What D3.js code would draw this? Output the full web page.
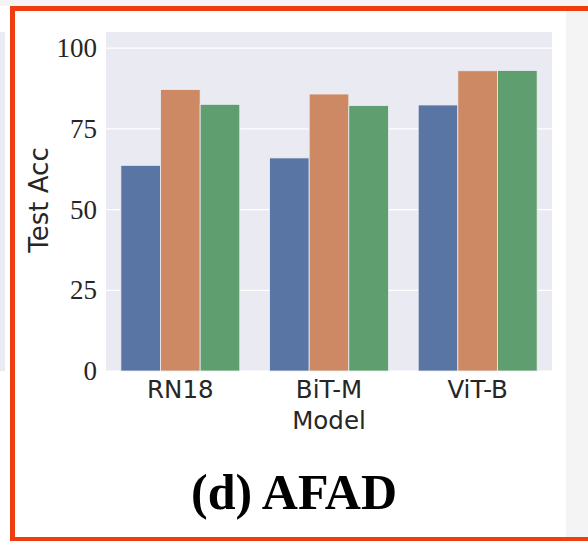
<!DOCTYPE html>
<html>
<head>
<meta charset="utf-8">
<script src="https://cdn.jsdelivr.net/npm/d3@7"></script>
<style>
    html, body { margin: 0; padding: 0; background: #f4f4f4; }
    svg { display: block; }
</style>
</head>
<body>
<div id="chart"></div>
<script>
const models = ['RN18', 'BiT-M', 'ViT-B'];
const seriesNames = ['s1', 's2', 's3'];
const series1 = [63.7, 66.0, 82.4];
const series2 = [87.2, 85.8, 93.0];
const series3 = [82.6, 82.2, 93.1];
const yTicks = [0, 25, 50, 75, 100];
const colors = ['#5975a4', '#cc8963', '#5f9e6e'];

const width = 588, height = 541;
const plot = { left: 106, right: 552, top: 32, bottom: 371 };

const svg = d3.select('#chart').append('svg')
    .attr('width', width)
    .attr('height', height);

// page around the figure
svg.append('rect').attr('width', width).attr('height', height).attr('fill', '#f4f4f4');
svg.append('rect').attr('x', 0).attr('y', 6).attr('width', 566).attr('height', height - 6).attr('fill', '#ffffff');
svg.append('rect').attr('x', 0).attr('y', 32).attr('width', 5).attr('height', 339).attr('fill', '#eaeaf2');

const x = d3.scaleBand().domain(models).range([plot.left, plot.right]).paddingInner(0).paddingOuter(0);
const xs = d3.scaleBand().domain(seriesNames).range([0, x.bandwidth() * 0.8]);
const y = d3.scaleLinear().domain([0, 105]).range([plot.bottom, plot.top]);

svg.append('rect')
    .attr('x', plot.left).attr('y', plot.top)
    .attr('width', plot.right - plot.left).attr('height', plot.bottom - plot.top)
    .attr('fill', '#eaeaf2');

svg.append('g')
    .selectAll('line').data(yTicks)
    .enter()
    .append('line')
    .attr('x1', plot.left).attr('x2', plot.right)
    .attr('y1', d => y(d)).attr('y2', d => y(d))
    .attr('stroke', '#ffffff')
    .attr('stroke-width', 1.2);

const rows = models.map((m, i) => ({ model: m, values: [series1[i], series2[i], series3[i]] }));

svg.append('g')
    .selectAll('g').data(rows)
    .enter()
    .append('g')
    .attr('transform', d => 'translate(' + (x(d.model) + x.bandwidth() * 0.1) + ',0)')
    .selectAll('rect').data(d => d.values.map((v, j) => ({ key: seriesNames[j], value: v, j: j })))
    .enter()
    .append('rect')
    .attr('x', d => xs(d.key))
    .attr('width', xs.bandwidth())
    .attr('y', d => y(d.value))
    .attr('height', d => y(0) - y(d.value))
    .attr('fill', d => colors[d.j])
    .attr('stroke', '#eeeef4')
    .attr('stroke-width', 0.8);

const yAxis = svg.append('g')
    .attr('transform', 'translate(' + plot.left + ',0)')
    .call(d3.axisLeft(y).tickValues(yTicks).tickSize(0).tickPadding(9));
yAxis.select('.domain').remove();
yAxis.selectAll('text')
    .attr('font-family', '"Liberation Serif", serif')
    .attr('font-size', 27)
    .attr('fill', '#262626');

const xAxis = svg.append('g')
    .attr('transform', 'translate(0,' + plot.bottom + ')')
    .call(d3.axisBottom(x).tickSize(0).tickPadding(10));
xAxis.select('.domain').remove();
xAxis.selectAll('text')
    .attr('font-family', '"DejaVu Sans", sans-serif')
    .attr('font-size', 24.5)
    .attr('fill', '#262626');

svg.append('text')
    .attr('x', x('BiT-M') + x.bandwidth() / 2)
    .attr('y', 429)
    .attr('text-anchor', 'middle')
    .attr('font-family', '"DejaVu Sans", sans-serif')
    .attr('font-size', 24.5)
    .attr('fill', '#262626')
    .text('Model');

svg.append('text')
    .attr('transform', 'translate(48,200) rotate(-90)')
    .attr('text-anchor', 'middle')
    .attr('font-family', '"DejaVu Sans", sans-serif')
    .attr('font-size', 26)
    .attr('fill', '#262626')
    .text('Test Acc');

svg.append('text')
    .attr('x', 294)
    .attr('y', 509)
    .attr('text-anchor', 'middle')
    .attr('font-family', '"Liberation Serif", serif')
    .attr('font-weight', 'bold')
    .attr('font-size', 50)
    .attr('fill', '#000000')
    .text('(d) AFAD');

// highlight frame
svg.append('rect')
    .attr('x', 12.5).attr('y', 8.5)
    .attr('width', 600).attr('height', 531)
    .attr('fill', 'none')
    .attr('stroke', '#ee3d0f')
    .attr('stroke-width', 5);
</script>
</body>
</html>
